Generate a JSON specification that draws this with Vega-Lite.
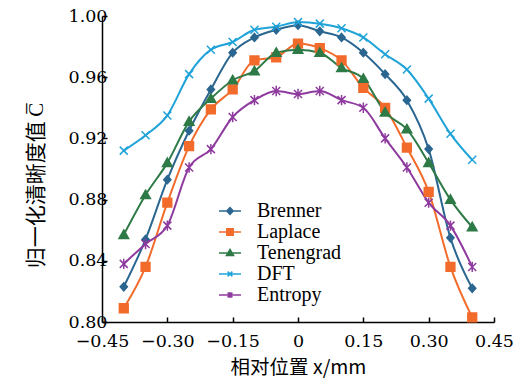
{
  "$schema": "https://vega.github.io/schema/vega-lite/v6.json",
  "width": 392,
  "height": 306,
  "autosize": {"type": "none"},
  "padding": {"left": 102, "top": 16, "right": 36, "bottom": 58},
  "config": {"view": {"stroke": null}},
  "data": {"values": [
    {"x": -0.40, "Brenner": 0.823, "Laplace": 0.809, "Tenengrad": 0.857, "DFT": 0.912, "Entropy": 0.838},
    {"x": -0.35, "Brenner": 0.854, "Laplace": 0.836, "Tenengrad": 0.883, "DFT": 0.922, "Entropy": 0.851},
    {"x": -0.30, "Brenner": 0.893, "Laplace": 0.878, "Tenengrad": 0.904, "DFT": 0.935, "Entropy": 0.863},
    {"x": -0.25, "Brenner": 0.925, "Laplace": 0.915, "Tenengrad": 0.931, "DFT": 0.962, "Entropy": 0.901},
    {"x": -0.20, "Brenner": 0.952, "Laplace": 0.939, "Tenengrad": 0.946, "DFT": 0.978, "Entropy": 0.913},
    {"x": -0.15, "Brenner": 0.976, "Laplace": 0.952, "Tenengrad": 0.958, "DFT": 0.983, "Entropy": 0.934},
    {"x": -0.10, "Brenner": 0.986, "Laplace": 0.971, "Tenengrad": 0.964, "DFT": 0.991, "Entropy": 0.945},
    {"x": -0.05, "Brenner": 0.991, "Laplace": 0.973, "Tenengrad": 0.976, "DFT": 0.993, "Entropy": 0.951},
    {"x": 0.00, "Brenner": 0.994, "Laplace": 0.982, "Tenengrad": 0.978, "DFT": 0.996, "Entropy": 0.949},
    {"x": 0.05, "Brenner": 0.990, "Laplace": 0.979, "Tenengrad": 0.976, "DFT": 0.995, "Entropy": 0.951},
    {"x": 0.10, "Brenner": 0.986, "Laplace": 0.971, "Tenengrad": 0.966, "DFT": 0.992, "Entropy": 0.945},
    {"x": 0.15, "Brenner": 0.976, "Laplace": 0.953, "Tenengrad": 0.959, "DFT": 0.986, "Entropy": 0.940},
    {"x": 0.20, "Brenner": 0.962, "Laplace": 0.940, "Tenengrad": 0.937, "DFT": 0.975, "Entropy": 0.920},
    {"x": 0.25, "Brenner": 0.945, "Laplace": 0.914, "Tenengrad": 0.926, "DFT": 0.965, "Entropy": 0.901},
    {"x": 0.30, "Brenner": 0.913, "Laplace": 0.885, "Tenengrad": 0.904, "DFT": 0.946, "Entropy": 0.878},
    {"x": 0.35, "Brenner": 0.855, "Laplace": 0.836, "Tenengrad": 0.880, "DFT": 0.923, "Entropy": 0.863},
    {"x": 0.40, "Brenner": 0.822, "Laplace": 0.803, "Tenengrad": 0.862, "DFT": 0.906, "Entropy": 0.836}
  ]},
  "transform": [{"fold": ["Brenner", "Laplace", "Tenengrad", "DFT", "Entropy"], "as": ["series", "value"]}],
  "encoding": {
    "x": {
      "field": "x", "type": "quantitative",
      "scale": {"domain": [-0.45, 0.45], "nice": false, "zero": false},
      "axis": {
        "values": [-0.45, -0.3, -0.15, 0, 0.15, 0.3, 0.45],
        "labelExpr": "datum.value === 0 ? '0' : format(datum.value, '.2f')",
        "title": "相对位置 x/mm",
        "grid": false,
        "tickSize": -5, "tickColor": "black", "tickWidth": 1.5,
        "domainColor": "black", "domainWidth": 1.5,
        "labelFont": "DejaVu Serif", "labelFontSize": 17.5, "labelColor": "black",
        "labelPadding": 15, "labelOverlap": false, "labelFlush": false, "labelBound": false,
        "titleFont": "Noto Sans CJK SC", "titleFontSize": 19.5, "titleFontWeight": "normal", "titleColor": "black",
        "titlePadding": 9
      }
    },
    "y": {
      "field": "value", "type": "quantitative",
      "scale": {"domain": [0.8, 1.0], "nice": false, "zero": false},
      "axis": {
        "values": [0.8, 0.84, 0.88, 0.92, 0.96, 1.0],
        "format": ".2f",
        "title": "归一化清晰度值 C̅",
        "grid": false,
        "tickSize": -5, "tickColor": "black", "tickWidth": 1.5,
        "domainColor": "black", "domainWidth": 1.5,
        "labelFont": "DejaVu Serif", "labelFontSize": 17.5, "labelColor": "black",
        "labelPadding": 0, "labelOverlap": false, "labelFlush": false, "labelBound": false,
        "titleFont": "Noto Sans CJK SC", "titleFontSize": 21, "titleFontWeight": "normal", "titleColor": "black",
        "titlePadding": 22, "titleY": 169, "titleAlign": "center"
      }
    }
  },
  "layer": [
    {
      "mark": {"type": "line", "interpolate": "monotone", "strokeWidth": 2},
      "encoding": {
        "color": {
          "field": "series", "type": "nominal",
          "scale": {"domain": ["Brenner", "Laplace", "Tenengrad", "DFT", "Entropy"], "range": ["#2B6690", "#F26B2B", "#2E7A46", "#1FA3D8", "#8E3A9E"]},
          "legend": {
            "orient": "none", "legendX": 118, "legendY": 185,
            "title": null, "padding": 0,
            "symbolSize": 16, "labelOffset": 17, "rowPadding": 1,
            "labelFont": "Liberation Serif", "labelFontSize": 20, "labelColor": "black",
            "symbolStrokeWidth": 1.5,
            "encoding": {
              "symbols": {
                "shape": {"value": {"expr": "datum.value === 'Brenner' ? 'M-5.5,0H5.5M0,-1.7L1.6,0L0,1.7L-1.6,0Z' : datum.value === 'Laplace' ? 'M-5.5,0H5.5M-1.6,-1.6H1.6V1.6H-1.6Z' : datum.value === 'Tenengrad' ? 'M-5.5,0H5.5M0,-1.8L1.8,1.3H-1.8Z' : datum.value === 'DFT' ? 'M-5.5,0H5.5M-1.2,-1.2L1.2,1.2M-1.2,1.2L1.2,-1.2' : 'M-5.5,0H5.5M-1.2,-1.2L1.2,1.2M-1.2,1.2L1.2,-1.2M0,-1.5V1.5'"}},
                "fill": {"value": {"expr": "datum.value === 'Brenner' ? '#2B6690' : datum.value === 'Laplace' ? '#F26B2B' : datum.value === 'Tenengrad' ? '#2E7A46' : datum.value === 'DFT' ? '#1FA3D8' : '#8E3A9E'"}},
                "stroke": {"value": {"expr": "datum.value === 'Brenner' ? '#2B6690' : datum.value === 'Laplace' ? '#F26B2B' : datum.value === 'Tenengrad' ? '#2E7A46' : datum.value === 'DFT' ? '#1FA3D8' : '#8E3A9E'"}},
                "strokeWidth": {"value": 1.5},
                "size": {"value": 16},
                "opacity": {"value": 1}
              }
            }
          }
        }
      }
    },
    {
      "mark": {"type": "point", "size": 64, "strokeWidth": 1.5, "opacity": 1, "filled": true},
      "encoding": {
        "fill": {
          "field": "series", "type": "nominal",
          "scale": {"domain": ["Entropy", "DFT", "Tenengrad", "Laplace", "Brenner"], "range": ["#8E3A9E", "#1FA3D8", "#2E7A46", "#F26B2B", "#2B6690"]},
          "legend": null
        },
        "stroke": {
          "field": "series", "type": "nominal",
          "scale": {"domain": ["Entropy", "DFT", "Tenengrad", "Laplace", "Brenner"], "range": ["#8E3A9E", "#1FA3D8", "#2E7A46", "#F26B2B", "#2B6690"]},
          "legend": null
        },
        "shape": {
          "field": "series", "type": "nominal",
          "scale": {"domain": ["Entropy", "DFT", "Tenengrad", "Laplace", "Brenner"],
                    "range": ["M-1,-1L1,1M-1,1L1,-1M0,-1.3V1.3", "M-1,-1L1,1M-1,1L1,-1", "M0,-1.2L1.2,0.9H-1.2Z", "M-1.1,-1.1H1.1V1.1H-1.1Z", "M0,-1L0.9,0L0,1L-0.9,0Z"]},
          "legend": null
        }
      }
    }
  ]
}
